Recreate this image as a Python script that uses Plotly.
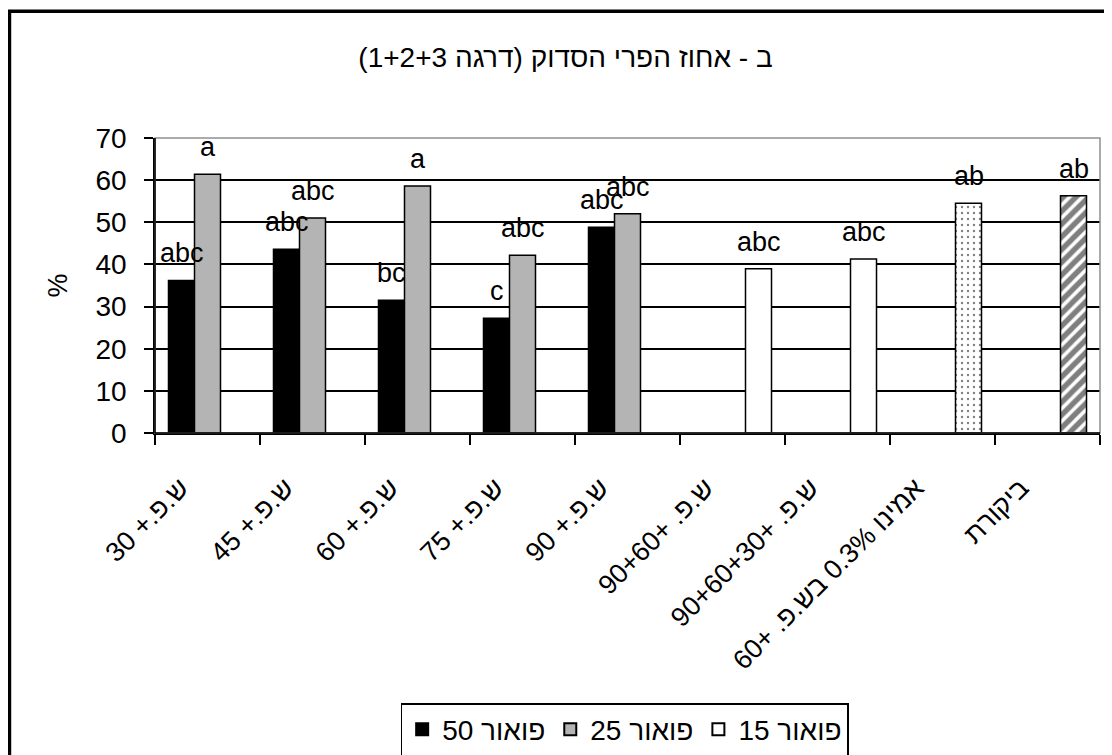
import plotly.graph_objects as go

RLE, PDF = "\u202B", "\u202C"
PAD = "\u00A0" * 5

def rtl(s):
    return RLE + s + PDF

categories = [
    "ש.פ.+ 30",
    "ש.פ.+ 45",
    "ש.פ.+ 60",
    "ש.פ.+ 75",
    "ש.פ.+ 90",
    "ש.פ. +90+60",
    "ש.פ. +90+60+30",
    "אמינו 0.3% בש.פ. +60",
    "ביקורת",
]

series_names = ["פואור 50", "פואור 25", "פואור 15"]

vals_50 = [36.2, 43.6, 31.5, 27.2, 48.8, None, None, None, None]
vals_25 = [61.4, 51.0, 58.6, 42.2, 52.0, None, None, None, None]
vals_15 = [None, None, None, None, None, 39.0, 41.3, 54.5, 56.3]

labels_50 = ["abc", "abc", "bc", "c", "abc", None, None, None, None]
labels_25 = ["a", "abc", "a", "abc", "abc", None, None, None, None]
labels_15 = [None, None, None, None, None, "abc", "abc", "ab", "ab"]

patterns_15 = ["", "", "", "", "", "", "", ".", "/"]

title_text = "ב - אחוז הפרי הסדוק (דרגה 1+2+3)"
y_title = "%"

FONT = "Liberation Sans, Arial, sans-serif"
cat_disp = [RLE + PAD + c + PDF for c in categories]

fig = go.Figure()
fig.add_trace(go.Bar(x=cat_disp, y=vals_50, name=rtl(series_names[0]),
                     marker=dict(color="black", line=dict(color="black", width=1.5))))
fig.add_trace(go.Bar(x=cat_disp, y=vals_25, name=rtl(series_names[1]),
                     marker=dict(color="#b4b4b4", line=dict(color="black", width=1.5))))
fig.add_trace(go.Bar(x=cat_disp, y=vals_15, name=rtl(series_names[2]),
                     marker=dict(color="white", line=dict(color="black", width=1.5),
                                 pattern=dict(shape=patterns_15, fgcolor="black", bgcolor="white",
                                              size=[8]*7 + [6, 9], solidity=[0.3]*7 + [0.12, 0.6]))))

shifts = [-26, 0, 26]
annotations = []
for vals, labs, sh in [(vals_50, labels_50, shifts[0]), (vals_25, labels_25, shifts[1]), (vals_15, labels_15, shifts[2])]:
    for c, v, l in zip(cat_disp, vals, labs):
        if v is not None and l:
            annotations.append(dict(x=c, y=v, text=l, showarrow=False, xshift=sh, yshift=27,
                                    yanchor="middle", font=dict(size=27, color="black", family=FONT)))

fig.update_layout(
    width=1104, height=747,
    margin=dict(l=147, r=12, t=130, b=322, autoexpand=False),
    paper_bgcolor="white", plot_bgcolor="white",
    font=dict(family=FONT, size=26, color="black"),
    title=dict(text=rtl(title_text), x=0.505, xanchor="center", y=0.934, yanchor="middle",
               font=dict(size=28, color="black", family=FONT)),
    barmode="group", bargap=0.257, bargroupgap=0,
    showlegend=True,
    legend=dict(orientation="h", x=0.497, xanchor="center", xref="paper",
                y=0.0696, yanchor="top", yref="container",
                bordercolor="black", borderwidth=1.5, font=dict(size=28, color="black"),
                itemsizing="constant", traceorder="normal"),
    annotations=annotations,
)

fig.update_xaxes(showline=True, linecolor="black", linewidth=1.5, ticks="outside",
                 tickson="boundaries", ticklen=10, tickcolor="black", tickwidth=1.5,
                 tickangle=-45, tickfont=dict(size=27, color="black"), ticklabelstandoff=0,
                 showgrid=False, automargin=False)
fig.update_yaxes(range=[0, 70], dtick=10, showline=True, linecolor="black", linewidth=1.5,
                 ticks="outside", ticklen=9, tickcolor="black", tickwidth=1.5,
                 tickfont=dict(size=28, color="black"), ticklabelstandoff=12,
                 showgrid=True, gridcolor="black", gridwidth=1.5, zeroline=False,
                 automargin=False,
                 title=dict(text=y_title, font=dict(size=27, color="black"), standoff=20))

# plot-area border (gray, top/right)
fig.add_shape(type="rect", xref="paper", yref="paper", x0=0, x1=1, y0=0, y1=1,
              line=dict(color="#909090", width=1.5), layer="above")
# redraw axis lines over border
fig.add_shape(type="line", xref="paper", yref="paper", x0=0, x1=0, y0=0, y1=1,
              line=dict(color="black", width=1.5), layer="above")
fig.add_shape(type="line", xref="paper", yref="paper", x0=0, x1=1, y0=0, y1=0,
              line=dict(color="black", width=1.5), layer="above")
# outer chart frame
fig.add_shape(type="rect", xref="paper", yref="paper", x0=-0.154, x1=1.05, y0=-1.2, y1=1.43,
              line=dict(color="black", width=3.5), layer="above")

fig.write_html("out.html")
